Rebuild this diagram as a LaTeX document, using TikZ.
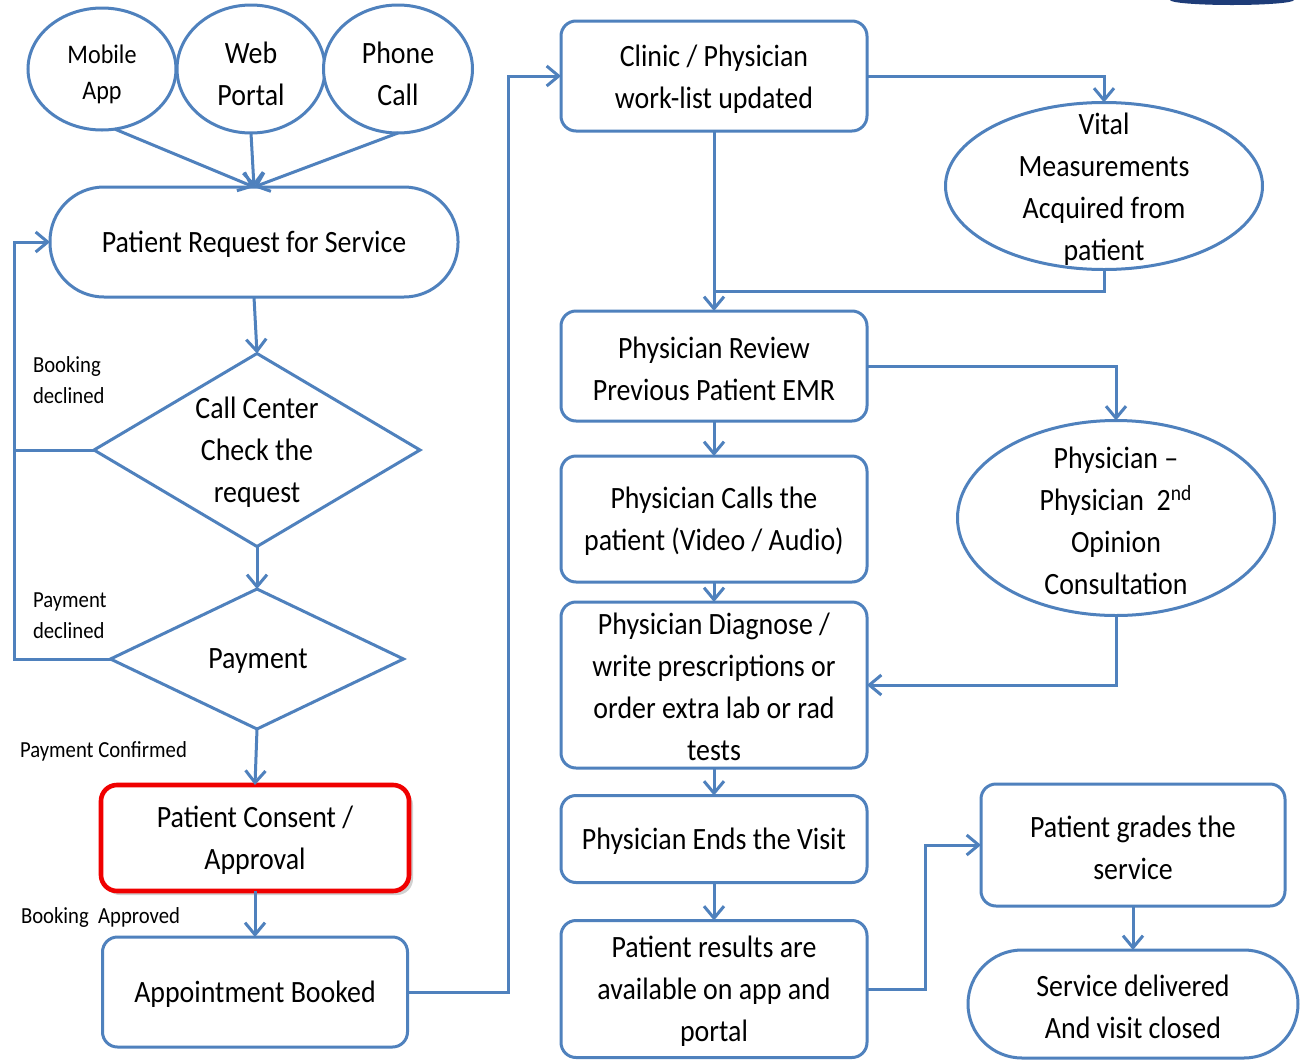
\documentclass[tikz,border=0pt]{standalone}
\usepackage{fontspec}
\setmainfont{Carlito}[FakeStretch=0.9]
\usetikzlibrary{shapes.geometric,arrows.meta}
\definecolor{ln}{RGB}{79,129,189}
\definecolor{rd}{RGB}{240,0,0}
\definecolor{logo}{RGB}{30,60,120}
\begin{document}
\begin{tikzpicture}[x=0.5pt,y=-0.5pt,
  every node/.style={inner sep=0pt, outer sep=0pt},
  line/.style={draw=ln, line width=1.5pt},
  arr/.style={line, -{Straight Barb[length=6pt,width=10pt,line width=1.5pt]}},
  box/.style={line, rectangle, rounded corners=7.5pt, fill=white},
  pill/.style={box, rounded corners=27pt},
  ell/.style={line, ellipse, fill=white},
  dmd/.style={line, diamond, fill=white},
  txt/.style={align=center, font=\fontsize{15.5pt}{21pt}\selectfont, text=black},
  small/.style={align=left, font=\fontsize{11.5pt}{15.5pt}\selectfont, text=black, anchor=west},
]
\useasboundingbox (0,0) rectangle (1303,1061);
\fill[white] (0,0) rectangle (1303,1061);
\fill[logo] (1232,0) ellipse (31pt and 2.5pt);

% top ellipses
\node[ell, minimum width=74pt, minimum height=61pt] (mob) at (102,69) {};
\node[txt, font=\fontsize{13.4pt}{18pt}\selectfont] (mobt) at (102,74) {Mobile\\App};
\node[ell, minimum width=74pt, minimum height=64pt] (web) at (251,69) {};
\node[txt] (webt) at (251,73.5) {Web\\Portal};
\node[ell, minimum width=74.5pt, minimum height=64pt] (pho) at (398,69) {};
\node[txt] (phot) at (398,73.5) {Phone\\Call};

% left column
\node[pill, minimum width=204pt, minimum height=55pt] (req) at (254,242) {};
\node[txt] (reqt) at (254,244.5) {Patient Request for Service};
\node[dmd, minimum width=163pt, minimum height=96.5pt] (call) at (257,450) {};
\node[txt] (callt) at (257,452.5) {Call Center\\Check the\\request};
\node[dmd, minimum width=146.5pt, minimum height=70pt] (pay) at (257,659) {};
\node[txt] (payt) at (258,661) {Payment};
\fill[black!18, rounded corners=8pt] (104,789) rectangle (413,895);
\node[rectangle, rounded corners=8pt, draw=rd, line width=2.3pt, fill=white, minimum width=154pt, minimum height=53pt] (cons) at (255,838) {};
\node[txt] (const) at (255,840.5) {Patient Consent /\\Approval};
\node[box, minimum width=152.5pt, minimum height=55pt] (app) at (255,992) {};
\node[txt] (appt) at (255,994.5) {Appointment Booked};

% middle column
\node[box, minimum width=153pt, minimum height=55pt] (cli) at (714,76) {};
\node[txt] (clit) at (714,79) {Clinic / Physician\\work-list updated};
\node[box, minimum width=153pt, minimum height=55pt] (rev) at (714,366) {};
\node[txt] (revt) at (714,368.5) {Physician Review\\Previous Patient EMR};
\node[box, minimum width=153pt, minimum height=63pt] (cal) at (714,519) {};
\node[txt] (calt) at (714,521) {Physician Calls the\\patient (Video / Audio)};
\node[box, minimum width=153pt, minimum height=83pt] (diag) at (714,685) {};
\node[txt] (diagt) at (714,687) {Physician Diagnose /\\write prescriptions or\\order extra lab or rad\\tests};
\node[box, minimum width=153pt, minimum height=43.5pt] (ends) at (714,839) {};
\node[txt] (endst) at (714,841.5) {Physician Ends the Visit};
\node[box, minimum width=153pt, minimum height=68.5pt] (res) at (714,989) {};
\node[txt] (rest) at (714,991) {Patient results are\\available on app and\\portal};

% right column
\node[ell, minimum width=158.5pt, minimum height=83.5pt] (vit) at (1104,186) {};
\node[txt] (vitt) at (1104,189) {Vital\\Measurements\\Acquired from\\patient};
\node[ell, minimum width=158.5pt, minimum height=97.5pt] (op) at (1116,518) {};
\node[txt] (opt) at (1116,521) {Physician --\\Physician~~2\textsuperscript{nd}\\Opinion\\Consultation};
\node[box, minimum width=152pt, minimum height=61pt] (gra) at (1133,845) {};
\node[txt] (grat) at (1133,847.5) {Patient grades the\\service};
\node[pill, minimum width=165pt, minimum height=54pt] (svc) at (1133,1004) {};
\node[txt] (svct) at (1133,1006.5) {Service delivered\\And visit closed};

% labels
\node[small] (lb1) at (33,380) {Booking\\declined};
\node[small] (lb2) at (33,616) {Payment\\declined};
\node[small] (lb3) at (20,751) {Payment Confirmed};
\node[small] (lb4) at (21,917) {Booking~ Approved};

% coordinates
\coordinate (lx) at (14,0);
\coordinate (ax) at (508,0);
\coordinate (jn) at (714,291);
\coordinate (rx) at (925,0);

% connectors
\draw[arr] (mob.-78) -- (req.north);
\draw[arr] (web.south) -- (req.north);
\draw[arr] (pho.south) -- (req.north);
\draw[arr] (req.south) -- (call.north);
\draw[arr] (call.south) -- (pay.north);
\draw[arr] (pay.south) -- (cons.north);
\draw[arr] (cons.south) -- (app.north);
\draw[arr] (call.west) -- (call.west -| lx) |- (req.west);
\draw[line] (pay.west) -- (pay.west -| lx) -- (call.west -| lx);
\draw[arr] (app.east) -- (app.east -| ax) |- (cli.west);
\draw[arr] (cli.east) -| (vit.north);
\draw[arr] (cli.south) -- (rev.north);
\draw[line] (vit.south) |- (jn);
\draw[arr] (rev.east) -| (op.north);
\draw[arr] (rev.south) -- (cal.north);
\draw[arr] (cal.south) -- (diag.north);
\draw[arr] (diag.south) -- (ends.north);
\draw[arr] (ends.south) -- (res.north);
\draw[arr] (op.south) |- (diag.east);
\draw[arr] (res.east) -- (res.east -| rx) |- (gra.west);
\draw[arr] (gra.south) -- (svc.north);
\end{tikzpicture}
\end{document}
